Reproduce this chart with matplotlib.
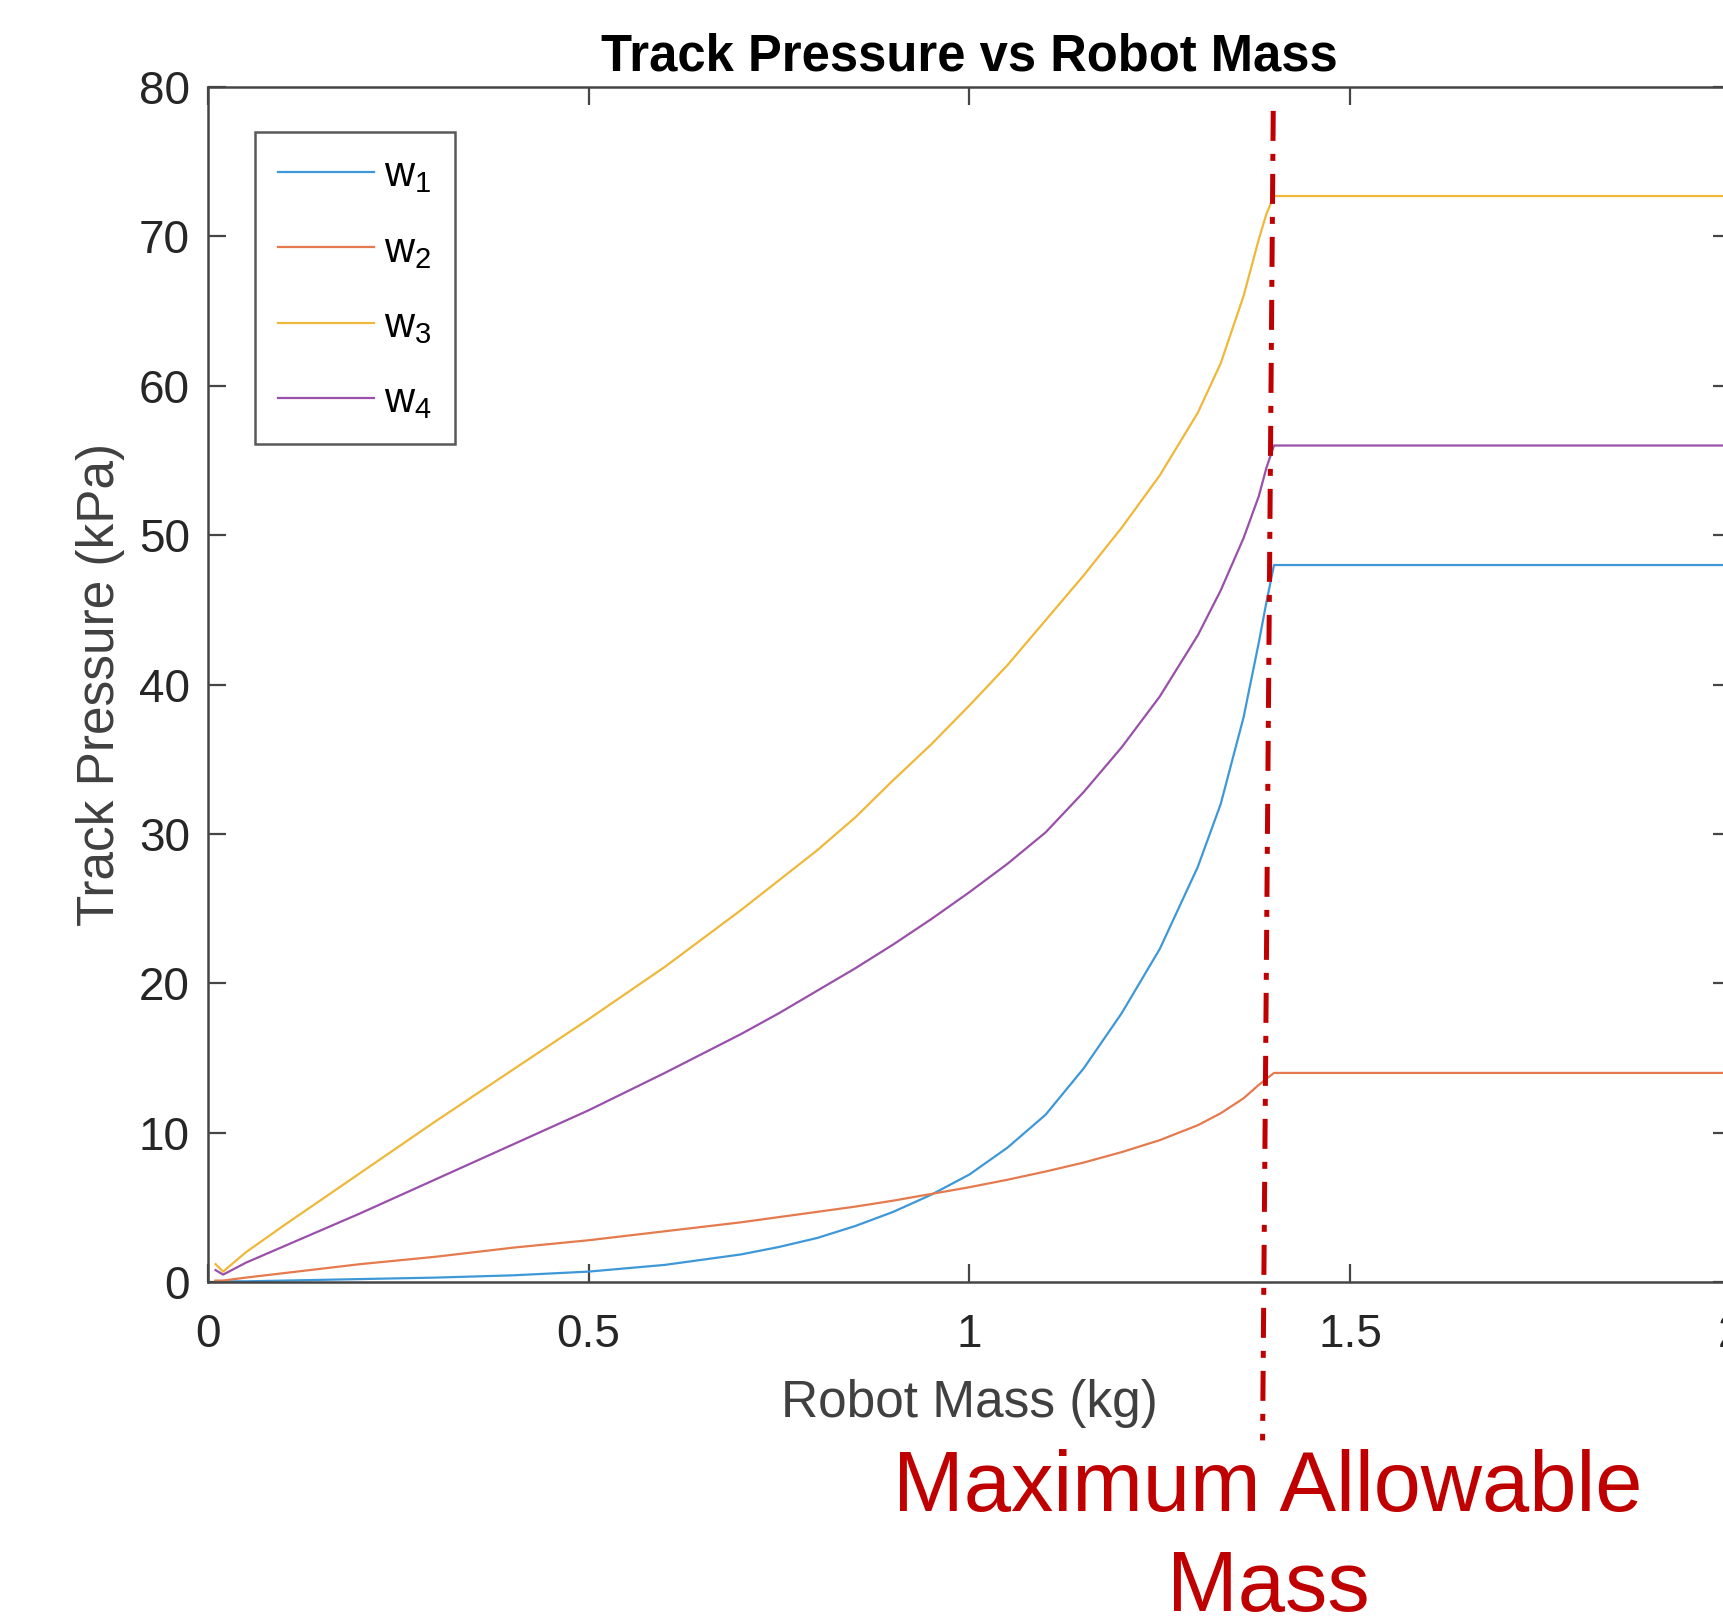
import matplotlib.pyplot as plt
import numpy as np

plt.rcParams['font.family'] = ['Liberation Sans', 'DejaVu Sans']
plt.rcParams['mathtext.default'] = 'regular'

# robot mass (kg) and track pressure (kPa)
mass = [0.01, 0.02, 0.05, 0.1, 0.2, 0.3, 0.4, 0.5, 0.6, 0.7, 0.75, 0.8, 0.85,
        0.9, 0.95, 1.0, 1.05, 1.1, 1.15, 1.2, 1.25, 1.3, 1.33, 1.36, 1.38,
        1.39, 1.4, 2.0]
w1 = [0.05, 0.05, 0.05, 0.1, 0.2, 0.3, 0.45, 0.7, 1.15, 1.85, 2.35, 2.95, 3.75,
      4.7, 5.85, 7.2, 9.0, 11.2, 14.3, 18.0, 22.3, 27.8, 32.0, 37.8, 42.8,
      45.5, 48.0, 48.0]
w2 = [0.1, 0.1, 0.3, 0.6, 1.2, 1.7, 2.3, 2.8, 3.4, 4.0, 4.35, 4.7, 5.05,
      5.45, 5.9, 6.35, 6.85, 7.4, 8.0, 8.7, 9.5, 10.5, 11.3, 12.3, 13.2,
      13.6, 14.0, 14.0]
w3 = [1.2, 0.7, 2.0, 3.8, 7.3, 10.8, 14.2, 17.6, 21.1, 24.9, 26.9, 28.9, 31.1,
      33.6, 36.0, 38.6, 41.3, 44.3, 47.3, 50.5, 54.0, 58.2, 61.5, 66.0, 69.8,
      71.5, 72.7, 72.7]
w4 = [0.8, 0.5, 1.3, 2.4, 4.6, 6.9, 9.2, 11.5, 14.0, 16.6, 18.0, 19.5, 21.0,
      22.6, 24.3, 26.1, 28.0, 30.1, 32.8, 35.8, 39.2, 43.3, 46.3, 49.8, 52.6,
      54.5, 56.0, 56.0]
labels = ['w$_{1}$', 'w$_{2}$', 'w$_{3}$', 'w$_{4}$']
colors = ['#3E98D8', '#E57A4E', '#EFB83A', '#9A50AA']

# maximum allowable mass marker (slightly slanted hand-drawn line)
limit_x = [1.399, 1.385]
limit_y = [78.4, -10.6]

fig = plt.figure(figsize=(17.24, 16.2), dpi=100)
ax = fig.add_axes([0.1206, 0.2086, 0.8834, 0.7377])

for ys, lab, c in zip([w1, w2, w3, w4], labels, colors):
    ax.plot(mass, ys, color=c, lw=1.6, label=lab)

ax.set_xlim(0, 2)
ax.set_ylim(0, 80)
ax.set_xticks([0, 0.5, 1, 1.5, 2])
ax.set_xticklabels(['0', '0.5', '1', '1.5', '2'])
ax.set_yticks(range(0, 81, 10))

axcol = '#454545'
for s in ax.spines.values():
    s.set_color(axcol)
    s.set_linewidth(1.8)
ax.tick_params(direction='in', length=13, width=1.6, color=axcol,
               labelsize=33, labelcolor='#262626', top=True, right=True)
ax.tick_params(axis='x', pad=22)
ax.tick_params(axis='y', pad=13)

ax.set_title('Track Pressure vs Robot Mass', fontsize=36.5, fontweight='bold', pad=12)
ax.set_xlabel('Robot Mass (kg)', fontsize=37, color='#404040', labelpad=16)
ax.set_ylabel('Track Pressure (kPa)', fontsize=37, color='#404040', labelpad=10)

leg = ax.legend(loc='upper left', bbox_to_anchor=(0.031, 0.962), borderaxespad=0,
                fontsize=30, handlelength=2.3, handletextpad=0.25,
                labelspacing=0.85, frameon=True, fancybox=False, borderpad=0.55)
leg.get_frame().set_edgecolor('#303030')
leg.get_frame().set_linewidth(1.8)

line, = ax.plot(limit_x, limit_y, color='#C00000', lw=3.6, clip_on=False)
line.set_dashes([6, 2.6, 1.4, 2.6])

fig.text(0.7355, 0.050, 'Maximum Allowable\nMass', color='#C00000', fontsize=61,
         ha='center', va='center', linespacing=1.32)

fig.savefig('out.png', dpi=100)
